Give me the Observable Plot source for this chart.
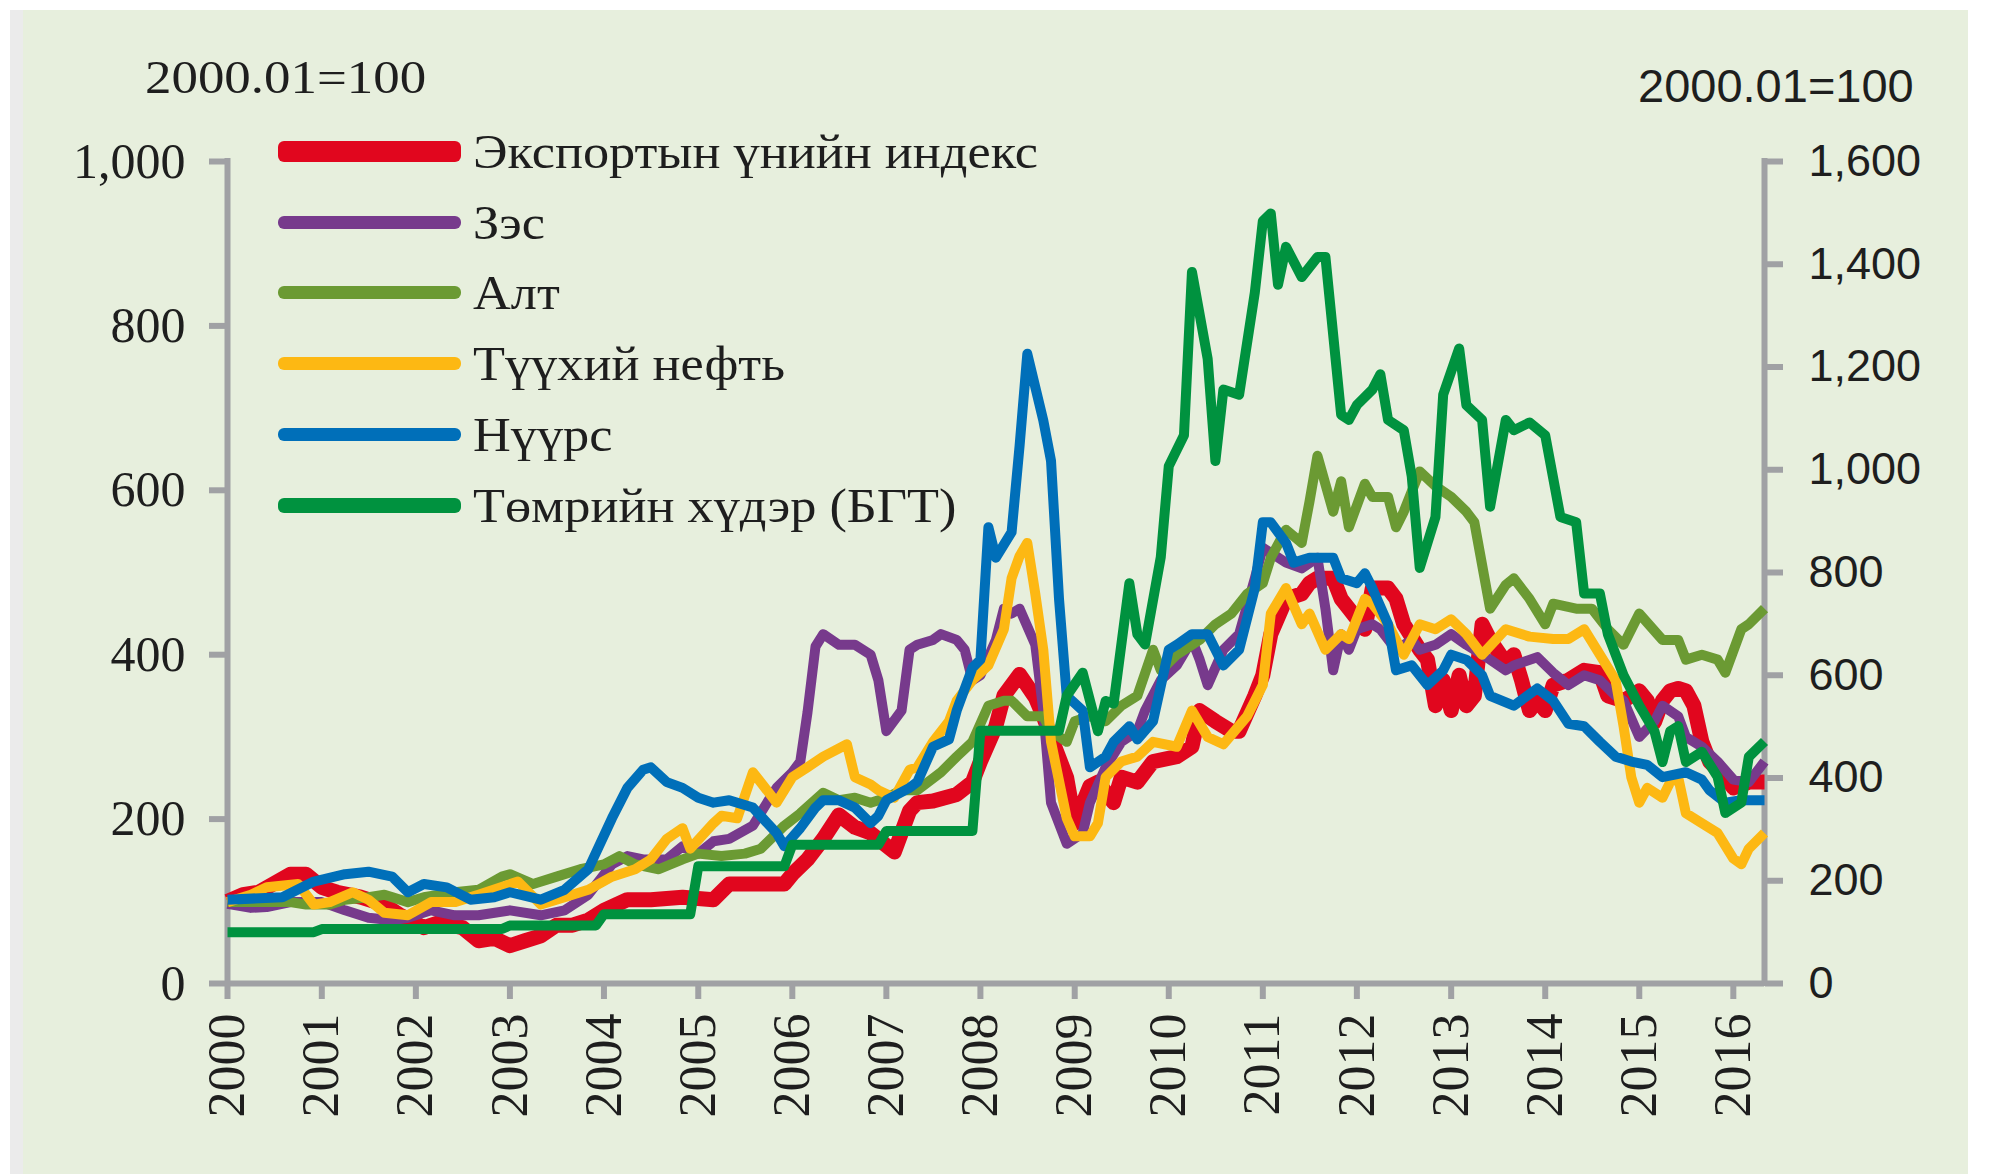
<!DOCTYPE html>
<html>
<head>
<meta charset="utf-8">
<script src="https://cdn.jsdelivr.net/npm/d3@7"></script>
<script src="https://cdn.jsdelivr.net/npm/@observablehq/plot@0.6"></script>
<style>
html, body { margin: 0; padding: 0; background: #ffffff; }
#wrap { position: relative; width: 1995px; height: 1174px; overflow: hidden; background: #ffffff; }
#strip { position: absolute; left: 10px; top: 10px; width: 13px; height: 1164px; background: #ebebeb; }
#bg { position: absolute; left: 23px; top: 10px; width: 1945px; height: 1164px; background: #e7efdd; }
#chart { position: absolute; left: 0; top: 0; }
#chart svg { display: block; }
.unit { position: absolute; white-space: nowrap; color: #1e1e1e; line-height: 1; transform-origin: left center; }
#unitL { left: 145px; top: 55px; font-family: "Liberation Serif", serif; font-size: 46px; transform: scaleX(1.15); }
#unitR { left: 1638px; top: 62px; font-family: "Liberation Sans", sans-serif; font-size: 47px; transform: scaleX(1.0); }
#legend { position: absolute; left: 278px; top: 116px; }
.item { display: flex; align-items: center; height: 70.8px; }
.sw { display: inline-block; width: 183px; border-radius: 6px; }
.lt { margin-left: 12px; font-family: "Liberation Serif", serif; font-size: 48px; color: #1e1e1e; white-space: nowrap; transform: scaleX(1.09); transform-origin: left center; display: inline-block; }
</style>
</head>
<body>
<div id="wrap">
  <div id="strip"></div>
  <div id="bg"></div>
  <div id="chart"></div>
  <div class="unit" id="unitL">2000.01=100</div>
  <div class="unit" id="unitR">2000.01=100</div>
  <div id="legend"></div>
</div>
<script>
// ---------- data ----------
const seriesNames = ["Экспортын үнийн индекс", "Зэс", "Алт", "Түүхий нефть", "Нүүрс", "Төмрийн хүдэр (БГТ)"];
const unitLabel = "2000.01=100";
const dateStart = "2000-01";
const dateEnd = "2016-05";
const yearTicks = [2000, 2001, 2002, 2003, 2004, 2005, 2006, 2007, 2008, 2009, 2010, 2011, 2012, 2013, 2014, 2015, 2016];
const leftTicks = [0, 200, 400, 600, 800, 1000];
const rightTicks = [0, 200, 400, 600, 800, 1000, 1200, 1400, 1600];

// Export price index (left axis)
const exportIndex = [
 ["2000-01",100],["2000-03",108],["2000-05",111],["2000-09",133],["2000-11",133],["2001-01",117],["2001-03",111],
 ["2001-06",105],["2001-09",96],["2001-11",83],["2002-02",68],["2002-04",74],["2002-07",68],["2002-09",52],
 ["2002-11",55],["2003-01",46],["2003-03",52],["2003-05",58],["2003-07",71],["2003-09",71],["2003-11",77],
 ["2004-01",89],["2004-04",102],["2004-07",102],["2004-11",105],["2005-03",102],["2005-05",121],["2005-09",121],
 ["2005-12",121],["2006-01",133],["2006-03",151],["2006-05",176],["2006-07",205],["2006-09",190],["2006-11",183],
 ["2007-02",160],["2007-04",210],["2007-05",220],["2007-07",222],["2007-10",230],["2007-12",245],["2008-01",270],
 ["2008-03",313],["2008-04",350],["2008-06",376],["2008-08",348],["2008-09",325],["2008-10",300],["2008-12",250],
 ["2009-01",195],["2009-03",240],["2009-04",245],["2009-06",220],["2009-07",251],["2009-09",245],["2009-11",270],
 ["2010-02",276],["2010-04",288],["2010-05",332],["2010-07",319],["2010-09",307],["2010-10",307],["2010-12",350],
 ["2011-01",375],["2011-02",425],["2011-04",468],["2011-06",474],["2011-07",487],["2011-08",493],["2011-10",493],
 ["2011-11",468],["2011-12",456],["2012-02",431],["2012-03",481],["2012-05",481],["2012-06",468],["2012-07",437],
 ["2012-09",406],["2012-10",394],["2012-11",338],["2012-12",369],["2013-01",332],["2013-02",375],["2013-03",338],
 ["2013-04",350],["2013-05",437],["2013-06",418],["2013-08",390],["2013-09",400],["2013-10",369],["2013-11",332],
 ["2013-12",344],["2014-01",332],["2014-02",363],["2014-04",369],["2014-06",381],["2014-08",378],["2014-09",350],
 ["2014-11",344],["2015-01",356],["2015-02",344],["2015-03",318],["2015-04",344],["2015-05",356],["2015-06",359],
 ["2015-07",356],["2015-08",338],["2015-09",294],["2015-10",270],["2015-12",251],["2016-01",238],["2016-03",245],
 ["2016-05",245]
];

// Copper (left axis)
const copper = [
 ["2000-01",97],["2000-04",92],["2000-06",93],["2000-09",99],["2001-01",99],["2001-04",89],["2001-07",80],
 ["2001-10",77],["2001-12",80],["2002-03",89],["2002-06",83],["2002-09",83],["2003-01",89],["2003-05",83],
 ["2003-08",89],["2003-11",108],["2004-02",145],["2004-04",155],["2004-06",151],["2004-09",151],["2004-11",167],
 ["2005-01",158],["2005-03",173],["2005-05",176],["2005-08",192],["2005-10",223],["2005-11",238],["2006-01",257],
 ["2006-02",270],["2006-03",330],["2006-04",410],["2006-05",425],["2006-07",412],["2006-09",412],["2006-11",400],
 ["2006-12",369],["2007-01",307],["2007-03",332],["2007-04",406],["2007-05",412],["2007-07",418],["2007-08",425],
 ["2007-10",418],["2007-11",406],["2007-12",369],["2008-01",375],["2008-03",418],["2008-04",456],["2008-05",450],
 ["2008-06",456],["2008-08",412],["2008-09",332],["2008-10",220],["2008-12",170],["2009-02",183],["2009-03",220],
 ["2009-05",263],["2009-07",294],["2009-09",307],["2009-10",332],["2009-12",369],["2010-02",387],["2010-04",418],
 ["2010-05",394],["2010-06",363],["2010-08",406],["2010-10",425],["2010-12",493],["2011-01",530],["2011-02",524],
 ["2011-04",512],["2011-06",505],["2011-08",518],["2011-09",456],["2011-10",381],["2011-11",425],["2011-12",406],
 ["2012-01",431],["2012-03",437],["2012-04",431],["2012-06",406],["2012-08",418],["2012-09",406],["2012-11",412],
 ["2013-01",425],["2013-03",412],["2013-04",406],["2013-06",394],["2013-08",381],["2013-09",387],["2013-12",397],
 ["2014-02",378],["2014-04",363],["2014-06",375],["2014-08",369],["2014-10",350],["2014-11",344],["2015-01",300],
 ["2015-03",319],["2015-04",338],["2015-06",325],["2015-07",300],["2015-09",288],["2015-11",270],["2016-01",248],
 ["2016-03",245],["2016-05",270]
];

// Gold (left axis)
const gold = [
 ["2000-01",99],["2000-05",99],["2000-09",99],["2000-11",96],["2001-02",96],["2001-04",102],["2001-07",105],
 ["2001-09",108],["2001-12",99],["2002-02",105],["2002-06",111],["2002-09",114],["2002-12",130],["2003-01",133],
 ["2003-04",121],["2003-07",130],["2003-10",139],["2004-01",145],["2004-03",155],["2004-05",145],["2004-08",139],
 ["2004-11",151],["2005-01",158],["2005-04",155],["2005-07",158],["2005-09",164],["2005-12",192],["2006-02",207],
 ["2006-05",232],["2006-07",223],["2006-09",226],["2006-11",220],["2007-01",226],["2007-03",235],["2007-05",235],
 ["2007-08",257],["2007-10",276],["2007-12",294],["2008-02",338],["2008-04",344],["2008-05",344],["2008-07",325],
 ["2008-09",325],["2008-10",307],["2008-12",294],["2009-01",319],["2009-03",325],["2009-05",319],["2009-07",338],
 ["2009-09",350],["2009-11",406],["2009-12",381],["2010-02",400],["2010-05",418],["2010-07",437],["2010-09",450],
 ["2010-11",474],["2011-01",487],["2011-02",518],["2011-04",552],["2011-06",536],["2011-07",586],["2011-08",642],
 ["2011-10",574],["2011-11",611],["2011-12",555],["2012-02",608],["2012-03",592],["2012-05",592],["2012-06",555],
 ["2012-07",574],["2012-09",623],["2012-11",605],["2013-01",592],["2013-03",574],["2013-04",561],["2013-06",456],
 ["2013-08",485],["2013-09",493],["2013-11",468],["2014-01",437],["2014-02",462],["2014-05",456],["2014-07",456],
 ["2014-09",431],["2014-11",412],["2015-01",450],["2015-04",418],["2015-06",418],["2015-07",394],["2015-09",400],
 ["2015-11",394],["2015-12",378],["2016-02",431],["2016-03",437],["2016-05",456]
];

// Crude oil (left axis)
const oil = [
 ["2000-01",99],["2000-04",108],["2000-06",117],["2000-10",121],["2000-12",96],["2001-02",99],["2001-05",111],
 ["2001-07",102],["2001-09",86],["2001-12",83],["2002-03",99],["2002-06",99],["2002-09",108],["2003-02",124],
 ["2003-05",96],["2003-08",105],["2003-11",114],["2004-02",130],["2004-05",139],["2004-07",151],["2004-09",176],
 ["2004-11",189],["2004-12",164],["2005-03",195],["2005-04",204],["2005-06",201],["2005-08",257],["2005-11",220],
 ["2006-01",251],["2006-03",263],["2006-05",276],["2006-08",291],["2006-09",251],["2006-11",242],["2006-12",235],
 ["2007-02",226],["2007-04",260],["2007-05",263],["2007-07",294],["2007-09",319],["2007-10",344],["2007-12",369],
 ["2008-02",387],["2008-04",431],["2008-05",493],["2008-06",520],["2008-07",536],["2008-08",474],["2008-09",406],
 ["2008-10",294],["2008-12",201],["2009-01",179],["2009-03",179],["2009-04",195],["2009-05",251],["2009-07",270],
 ["2009-09",276],["2009-11",294],["2010-02",288],["2010-04",332],["2010-06",300],["2010-08",291],["2010-11",325],
 ["2011-01",363],["2011-02",450],["2011-04",481],["2011-06",437],["2011-07",450],["2011-09",406],["2011-11",425],
 ["2011-12",419],["2012-02",468],["2012-03",462],["2012-05",437],["2012-07",400],["2012-09",437],["2012-11",431],
 ["2013-01",443],["2013-03",425],["2013-05",400],["2013-08",431],["2013-11",422],["2014-02",419],["2014-04",419],
 ["2014-06",431],["2014-08",400],["2014-10",369],["2014-11",313],["2014-12",251],["2015-01",220],["2015-02",238],
 ["2015-04",226],["2015-05",245],["2015-06",251],["2015-07",207],["2015-09",195],["2015-11",183],["2016-01",152],
 ["2016-02",145],["2016-03",164],["2016-05",183]
];

// Coal (left axis)
const coal = [
 ["2000-01",102],["2000-08",105],["2000-12",124],["2001-04",133],["2001-07",136],["2001-10",130],["2001-12",111],
 ["2002-02",121],["2002-05",117],["2002-08",102],["2002-11",105],["2003-01",111],["2003-05",102],["2003-08",114],
 ["2003-11",139],["2004-02",201],["2004-04",238],["2004-06",260],["2004-07",263],["2004-09",245],["2004-11",238],
 ["2005-01",226],["2005-03",220],["2005-05",223],["2005-08",214],["2005-11",183],["2005-12",167],["2006-02",189],
 ["2006-04",214],["2006-05",223],["2006-07",223],["2006-09",214],["2006-11",195],["2006-12",204],["2007-01",223],
 ["2007-04",238],["2007-05",245],["2007-07",288],["2007-09",297],["2007-10",332],["2007-12",384],["2008-01",394],
 ["2008-02",555],["2008-03",518],["2008-05",549],["2008-06",654],["2008-07",766],["2008-09",685],["2008-10",636],
 ["2008-11",468],["2008-12",350],["2009-02",332],["2009-03",263],["2009-05",276],["2009-06",294],["2009-08",313],
 ["2009-09",297],["2009-11",319],["2010-01",406],["2010-02",412],["2010-04",425],["2010-06",425],["2010-08",387],
 ["2010-10",406],["2010-12",481],["2011-01",561],["2011-02",561],["2011-04",536],["2011-05",512],["2011-07",518],
 ["2011-10",518],["2011-11",493],["2012-01",487],["2012-02",499],["2012-03",481],["2012-05",437],["2012-06",381],
 ["2012-08",387],["2012-10",363],["2012-12",381],["2013-01",400],["2013-03",394],["2013-05",375],["2013-06",350],
 ["2013-09",338],["2013-12",359],["2014-02",344],["2014-04",316],["2014-06",313],["2014-08",294],["2014-10",276],
 ["2014-12",270],["2015-02",266],["2015-04",251],["2015-07",257],["2015-09",248],["2015-10",235],["2015-12",220],
 ["2016-02",223],["2016-05",223]
];

// Iron ore (right axis)
const ironOre = [
 ["2000-01",100],["2000-12",100],["2001-01",106],["2002-12",106],["2003-01",113],["2003-12",113],["2004-01",135],
 ["2004-12",135],["2005-01",228],["2005-12",228],["2006-01",270],["2006-12",270],["2007-01",297],["2007-12",297],
 ["2008-01",492],["2008-11",492],["2008-12",560],["2009-02",605],["2009-04",491],["2009-05",550],["2009-06",545],
 ["2009-08",779],["2009-09",680],["2009-10",660],["2009-12",830],["2010-01",1007],["2010-03",1067],["2010-04",1385],
 ["2010-06",1216],["2010-07",1017],["2010-08",1156],["2010-10",1146],["2010-12",1345],["2011-01",1484],["2011-02",1499],
 ["2011-03",1360],["2011-04",1434],["2011-06",1375],["2011-08",1414],["2011-09",1414],["2011-11",1107],["2011-12",1097],
 ["2012-01",1126],["2012-03",1156],["2012-04",1186],["2012-05",1097],["2012-07",1077],["2012-08",987],["2012-09",809],
 ["2012-11",908],["2012-12",1146],["2013-02",1236],["2013-03",1126],["2013-05",1097],["2013-06",928],["2013-08",1097],
 ["2013-09",1077],["2013-11",1092],["2014-01",1067],["2014-03",908],["2014-05",898],["2014-06",759],["2014-08",759],
 ["2014-09",680],["2014-11",600],["2015-01",541],["2015-03",491],["2015-04",431],["2015-05",491],["2015-06",501],
 ["2015-07",431],["2015-09",451],["2015-11",402],["2015-12",332],["2016-02",352],["2016-03",441],["2016-05",471]
];

// ---------- style ----------
const colors = ["#e1061e", "#773a8c", "#6b9a33", "#fdb813", "#006fb9", "#00923f"];
const lineWidths = [15, 10, 10, 10, 10, 10];
const swatchHeights = [21, 13, 13, 13, 13, 15];
const GREY = "#a0a1a4";
const TEXT = "#1e1e1e";
const LEFT_MAX = 1000, RIGHT_MAX = 1600;
const RATIO = RIGHT_MAX / LEFT_MAX;

// ---------- build ----------
const parse = d3.utcParse("%Y-%m");
const fmt = d3.format(",");
const toRows = (pairs, i, k) => pairs.map(([d, v]) => ({date: parse(d), value: v / k, series: seriesNames[i]}));
const sets = [exportIndex, copper, gold, oil, coal].map((p, i) => toRows(p, i, 1));
sets.push(toRows(ironOre, 5, RATIO));

const xStart = parse(dateStart), xEnd = parse(dateEnd);

const chart = Plot.plot({
  width: 1995,
  height: 1174,
  marginLeft: 227,
  marginRight: 231,
  marginTop: 161,
  marginBottom: 191,
  x: {type: "utc", domain: [xStart, xEnd]},
  y: {domain: [0, LEFT_MAX]},
  style: {background: "transparent", overflow: "visible"},
  marks: [
    Plot.axisY({anchor: "left", ticks: leftTicks, tickFormat: fmt, tickSize: 18, tickPadding: 24,
      stroke: GREY, strokeWidth: 6, fill: TEXT, fontFamily: "Liberation Serif", fontSize: 50, label: null}),
    Plot.axisY({anchor: "right", ticks: rightTicks.map(v => v / RATIO), tickFormat: v => fmt(Math.round(v * RATIO)),
      tickSize: 18, tickPadding: 26, stroke: GREY, strokeWidth: 6, fill: TEXT,
      fontFamily: "Liberation Sans", fontSize: 45, label: null}),
    Plot.axisX({ticks: yearTicks.map(y => new Date(Date.UTC(y, 0, 1))), tickFormat: d => String(d.getUTCFullYear()),
      tickRotate: -90, tickSize: 16, tickPadding: 14, stroke: GREY, strokeWidth: 6, fill: TEXT,
      fontFamily: "Liberation Sans Narrow", fontSize: 52, label: null}),
    Plot.ruleY([0], {stroke: GREY, strokeWidth: 6}),
    Plot.ruleX([xStart, xEnd], {stroke: GREY, strokeWidth: 6, strokeLinecap: "square"}),
    ...sets.map((rows, i) => Plot.lineY(rows, {x: "date", y: "value", stroke: colors[i], strokeWidth: lineWidths[i],
      strokeLinejoin: "round", strokeLinecap: "butt"}))
  ]
});
document.getElementById("chart").appendChild(chart);

// legend
const legend = d3.select("#legend");
seriesNames.forEach((name, i) => {
  const item = legend.append("div").attr("class", "item");
  item.append("span").attr("class", "sw").style("background", colors[i]).style("height", swatchHeights[i] + "px");
  item.append("span").attr("class", "lt").text(name);
});
document.getElementById("unitL").textContent = unitLabel;
document.getElementById("unitR").textContent = unitLabel;
</script>
</body>
</html>
